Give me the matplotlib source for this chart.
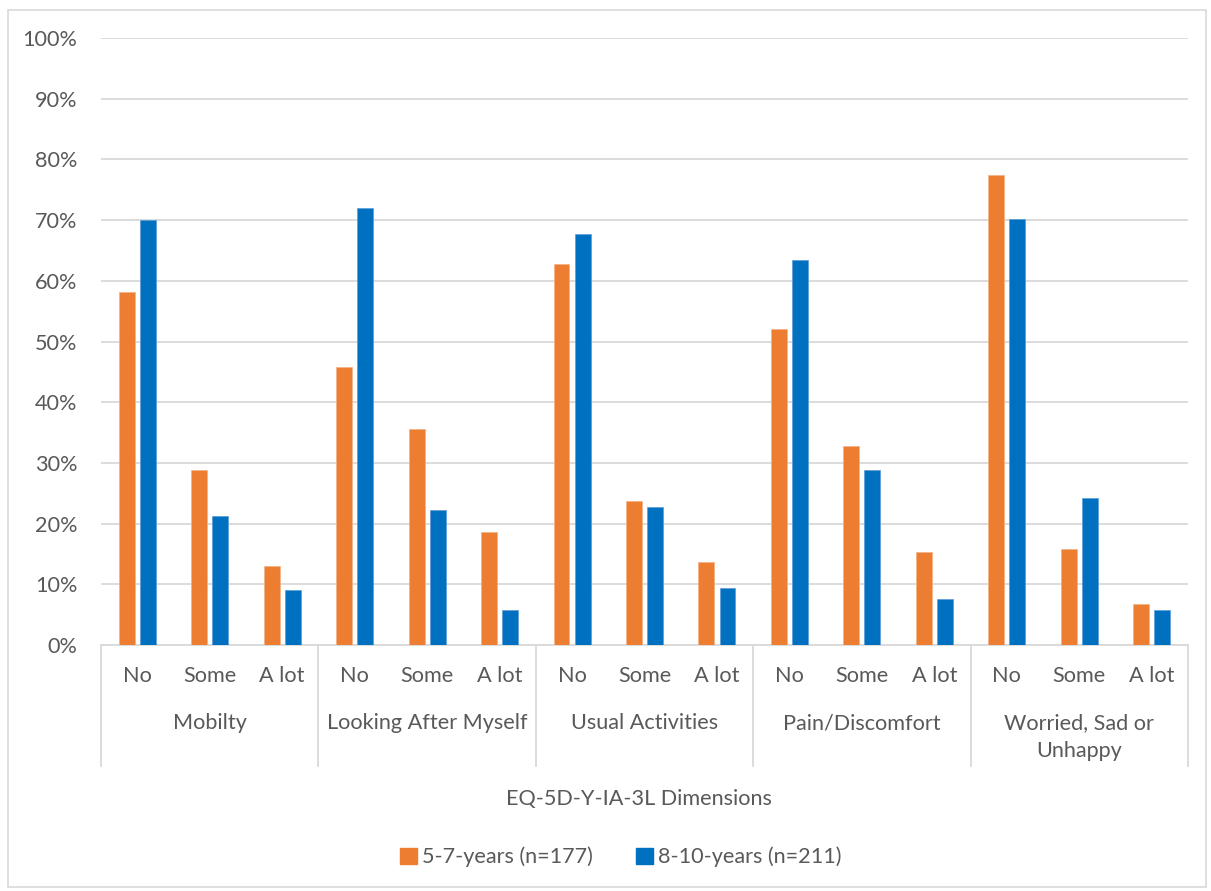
import matplotlib
matplotlib.use("Agg")
import matplotlib.pyplot as plt
from matplotlib.patches import Rectangle
from matplotlib.ticker import FuncFormatter
import matplotlib.transforms as mtransforms

plt.rcParams['font.family'] = ['Lato', 'DejaVu Sans']

groups = ["Mobilty", "Looking After Myself", "Usual Activities",
          "Pain/Discomfort", "Worried, Sad or\nUnhappy"]
levels = ["No", "Some", "A lot"]
series_names = ["5-7-years (n=177)", "8-10-years (n=211)"]
young = [58.2, 28.8, 13.0,
         45.8, 35.6, 18.6,
         62.7, 23.7, 13.6,
         52.0, 32.8, 15.3,
         77.4, 15.8, 6.8]
older = [70.0, 21.3, 9.0,
         72.0, 22.3, 5.7,
         67.7, 22.7, 9.4,
         63.5, 28.9, 7.6,
         70.1, 24.2, 5.7]
x_title = "EQ-5D-Y-IA-3L Dimensions"

ORANGE = "#ED7D31"
BLUE = "#0070C0"
GRID = "#D9D9D9"
TXT = "#595959"
FS = 15.6

W, H = 1211, 891
fig = plt.figure(figsize=(W / 100, H / 100), dpi=100)
fig.patch.set_facecolor("white")

# outer chart frame
fig.patches.append(Rectangle((8 / W, 1 - 887 / H), 1198 / W, 877 / H,
                             transform=fig.transFigure, fill=False,
                             edgecolor=GRID, linewidth=1.2))

left, right, top, bottom = 101, 1188, 38, 645
ax = fig.add_axes([left / W, 1 - bottom / H, (right - left) / W, (bottom - top) / H])

n = len(young)
centers = [i + 0.5 for i in range(n)]
bw = 0.22
off = 0.145
ax.bar([c - off for c in centers], young, width=bw, color=ORANGE,
       edgecolor="#F4B183", linewidth=0.5, zorder=3)
ax.bar([c + off for c in centers], older, width=bw, color=BLUE,
       edgecolor="#5B9BD5", linewidth=0.5, zorder=3)

ax.set_xlim(0, n)
ax.set_ylim(0, 100)
ax.set_yticks(range(0, 101, 10))
ax.yaxis.set_major_formatter(FuncFormatter(lambda v, p: f"{int(v)}%"))
ax.grid(axis="y", color=GRID, linewidth=1.3, zorder=0)
ax.set_axisbelow(True)
for s in ["top", "right", "left"]:
    ax.spines[s].set_visible(False)
ax.spines["bottom"].set_color(GRID)
ax.spines["bottom"].set_linewidth(1.3)
ax.tick_params(axis="y", length=0, pad=17, labelsize=FS, labelcolor=TXT)
ax.set_xticks([])

trans = mtransforms.blended_transform_factory(ax.transData, ax.transAxes)
px = 1.0 / (bottom - top)

# category level labels
for i, c in enumerate(centers):
    ax.text(c, -31 * px, levels[i % 3], transform=trans, ha="center", va="center",
            fontsize=FS, color=TXT)

# group labels and separators
ng = len(groups)
for g in range(ng + 1):
    ax.plot([3 * g, 3 * g], [0, -121 * px], transform=trans, color=GRID,
            linewidth=1.3, clip_on=False)
for g, name in enumerate(groups):
    for k, line in enumerate(name.split("\n")):
        ax.text(3 * g + 1.5, -(78 + 28 * k) * px, line, transform=trans,
                ha="center", va="center", fontsize=FS, color=TXT)

fig.text(639 / W, 1 - 799 / H, x_title, ha="center", va="center",
         fontsize=FS, color=TXT)

# legend
handles = [Rectangle((0, 0), 1, 1, color=ORANGE), Rectangle((0, 0), 1, 1, color=BLUE)]
leg = fig.legend(handles, series_names, loc="center", ncol=2,
                 bbox_to_anchor=(621 / W, 1 - 857 / H),
                 frameon=False, fontsize=FS, handlelength=0.75, handleheight=0.75,
                 handletextpad=0.25, columnspacing=2.0, labelcolor=TXT)

fig.savefig("out.png", dpi=100, facecolor="white")
